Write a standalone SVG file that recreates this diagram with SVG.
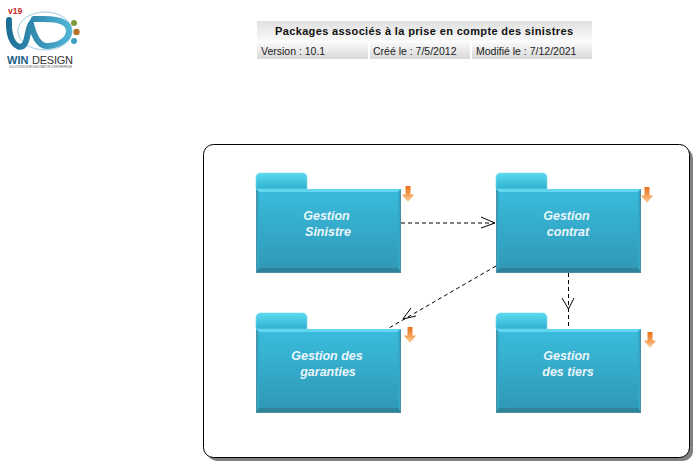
<svg xmlns="http://www.w3.org/2000/svg" width="695" height="463" viewBox="0 0 695 463">
<style>
text{font-family:"Liberation Sans",Arial,sans-serif}
.hd{font-size:10.500px;fill:#222}
.nm{font-size:12.500px;font-weight:bold;font-style:italic;fill:#eaf6fa;text-anchor:middle}
.dash{fill:none;stroke:#000;stroke-width:1;stroke-dasharray:4 3}
.head{fill:none;stroke:#000;stroke-width:1}
.tab{fill:url(#tabG);stroke:#6fd8ec;stroke-width:.6}
.body{fill:url(#bodyG)}
.hi{fill:#62d6ee}
.lo{fill:#2e8299}
.sd{fill:#34a6c6}
.edge{fill:none;stroke:#4b8fa3;stroke-width:1}
</style>
<defs>
<linearGradient id="bodyG" x1="0" y1="0" x2="0" y2="1"><stop offset="0" stop-color="#3abcdd"/><stop offset="1" stop-color="#2f97b5"/></linearGradient>
<linearGradient id="tabG" x1="0" y1="0" x2="0" y2="1"><stop offset="0" stop-color="#5cdaf0"/><stop offset="1" stop-color="#2fb0d0"/></linearGradient>
<linearGradient id="hdG" x1="0" y1="0" x2="0" y2="1"><stop offset="0" stop-color="#e0e0e0"/><stop offset="1" stop-color="#fafafa"/></linearGradient>
<linearGradient id="rowG" x1="0" y1="0" x2="0" y2="1"><stop offset="0" stop-color="#fafafa"/><stop offset="1" stop-color="#d8d8d8"/></linearGradient>
<linearGradient id="arG" x1="0" y1="0" x2="0" y2="1"><stop offset="0" stop-color="#e8701a"/><stop offset=".6" stop-color="#f5a45a"/><stop offset="1" stop-color="#fcd5a6"/></linearGradient>
<linearGradient id="wdG" x1="0" y1="0" x2="1" y2="0"><stop offset="0" stop-color="#1d6f96"/><stop offset="1" stop-color="#4fb3d4"/></linearGradient>
<g id="pkg">
<path class="tab" d="M0 16V5Q0 0 5 0H46Q51 0 51 5V16Z"/>
<rect class="body" y="16" width="145" height="84"/>
<path class="hi" d="M0 16H145L141 19H3Z"/>
<path class="sd" d="M0 16L3 19V95L0 100Z"/>
<path class="sd" d="M145 16L142 19V95L145 100Z"/>
<path class="lo" d="M0 100L3 95H142L145 100Z"/>
<path class="edge" d="M.5 17V99.500H144.500V17"/>
</g>
<path id="dn" fill="url(#arG)" d="M-2.500 -8H2.500V0.500H6L0 8 -6 0.500H-2.500Z"/>
</defs>

<g id="logo">
<text x="8" y="13.500" font-size="8.500" font-weight="bold" fill="#c8281e">v19</text>
<ellipse cx="45" cy="31" rx="27" ry="19" fill="none" stroke="#9ccbe0" stroke-width="1"/>
<path d="M9 20C8 42 17 49 23 46C28 43 27 30 31 24C34 36 39 47 48 46C62 45 69 38 69 31C69 23 60 19 44 19H34" fill="none" stroke="url(#wdG)" stroke-width="6" stroke-linecap="round"/>
<circle cx="74" cy="23" r="3" fill="#7f9a3a"/>
<circle cx="76.500" cy="32" r="3.200" fill="#b5722c"/>
<circle cx="74" cy="41" r="3" fill="#3f9dc4"/>
<text x="7" y="63.500" font-size="11" font-weight="bold" fill="#1d5f85">WIN</text>
<text x="32" y="63.500" font-size="11" fill="#333" textLength="41">DESIGN</text>
<text x="9" y="68" font-size="2.800" fill="#555" textLength="63">SOLUTION DE MODELISATION D'ENTREPRISE</text>
</g>

<g id="header">
<rect x="257" y="21" width="335" height="20" fill="url(#hdG)"/>
<rect x="257" y="42" width="111" height="17" fill="url(#rowG)"/>
<rect x="370" y="42" width="100" height="17" fill="url(#rowG)"/>
<rect x="472" y="42" width="120" height="17" fill="url(#rowG)"/>
<text x="424" y="35" font-size="11" font-weight="bold" fill="#111" text-anchor="middle" textLength="298">Packages associés à la prise en compte des sinistres</text>
<text class="hd" x="261" y="55">Version : 10.1</text>
<text class="hd" x="373" y="55">Créé le : 7/5/2012</text>
<text class="hd" x="476" y="55">Modifié le : 7/12/2021</text>
</g>

<g id="frame">
<rect x="207" y="148" width="486" height="313" rx="10" fill="#808080"/>
<rect x="203.500" y="144.500" width="486" height="313" rx="10" fill="#fff" stroke="#000" stroke-width="1"/>
</g>

<g id="connectors">
<path class="dash" d="M401 223H494"/>
<path class="head" d="M481 217L495 223 481 228"/>
<path class="dash" d="M496 266L389 328"/>
<path class="head" d="M411 308L403 319 416 316"/>
<path class="dash" d="M568.500 273V328"/>
<path class="head" d="M562 298L568.500 309 574 298"/>
</g>

<g id="node-sinistre"><use href="#pkg" x="256" y="173"/><use href="#dn" x="408" y="194"/>
<text class="nm" x="326.500" y="220">Gestion</text><text class="nm" x="328" y="236">Sinistre</text></g>
<g id="node-contrat"><use href="#pkg" x="496" y="173"/><use href="#dn" x="647" y="195"/>
<text class="nm" x="566.500" y="220">Gestion</text><text class="nm" x="568" y="236">contrat</text></g>
<g id="node-garanties"><use href="#pkg" x="256" y="313"/><use href="#dn" x="410" y="335"/>
<text class="nm" x="327" y="360">Gestion des</text><text class="nm" x="328" y="376">garanties</text></g>
<g id="node-tiers"><use href="#pkg" x="496" y="313"/><use href="#dn" x="650" y="340"/>
<text class="nm" x="566.500" y="360">Gestion</text><text class="nm" x="568" y="376">des tiers</text></g>
</svg>
